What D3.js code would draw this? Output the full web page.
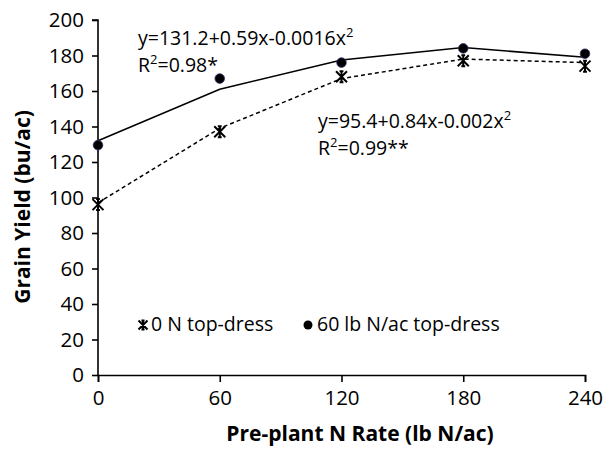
<!DOCTYPE html>
<html>
<head>
<meta charset="utf-8">
<script src="https://cdn.jsdelivr.net/npm/d3@7"></script>
<style>
  body { margin: 0; background: #fff; }
  text { font-family: "Open Sans", sans-serif; fill: #000; }
</style>
</head>
<body>
<script>
// data
var nRate = [0, 60, 120, 180, 240];
var xTicks = [0, 60, 120, 180, 240];
var yTicks = [0, 20, 40, 60, 80, 100, 120, 140, 160, 180, 200];

var yield0N = [96, 137, 168, 177, 174];      // 0 N top-dress (points)
var yield60N = [129.5, 167, 176, 184, 181];  // 60 lb N/ac top-dress (points)
var fit0N = [97, 139, 167, 178, 176];        // dashed fit line
var fit60N = [132, 161, 177.5, 184.5, 179];  // solid fit line

var margin = { top: 20, right: 23, bottom: 76, left: 98 },
  width = 608 - margin.left - margin.right,
  height = 451 - margin.top - margin.bottom;

var svg = d3.select("body").append("svg")
  .attr("width", 608)
  .attr("height", 451)
  .append("g")
  .attr("transform", "translate(" + margin.left + "," + margin.top + ")");

var x = d3.scaleLinear().domain([0, 240]).range([0, width]);
var y = d3.scaleLinear().domain([0, 200]).range([height, 0]);

// axes
var yAxis = svg.append("g")
  .call(d3.axisLeft(y).tickValues(yTicks).tickSize(6).tickPadding(8));
var xAxis = svg.append("g")
  .attr("transform", "translate(0," + height + ")")
  .call(d3.axisBottom(x).tickValues(xTicks).tickSize(7).tickPadding(8));

[xAxis, yAxis].forEach(function (a) {
  a.select(".domain").attr("stroke", "#000").attr("stroke-width", 1.6);
  a.selectAll(".tick line").attr("stroke", "#000").attr("stroke-width", 1.6);
  a.selectAll(".tick text").style("font-size", "20.5px").attr("fill", "#000");
});
yAxis.select(".domain").attr("d", "M0," + height + "V0H-6");

svg.append("text")
  .attr("x", 262).attr("y", 421)
  .attr("text-anchor", "middle")
  .style("font-size", "21px").style("font-weight", "bold")
  .text("Pre-plant N Rate (lb N/ac)");

svg.append("text")
  .attr("transform", "translate(-68,187) rotate(-90)")
  .attr("text-anchor", "middle")
  .style("font-size", "21px").style("font-weight", "bold")
  .text("Grain Yield (bu/ac)");

// fit lines
var line = d3.line()
  .x(function (d, i) { return x(nRate[i]); })
  .y(function (d) { return y(d); });

svg.append("path").datum(fit0N)
  .attr("d", line)
  .attr("fill", "none").attr("stroke", "#000")
  .attr("stroke-width", 1.5).attr("stroke-dasharray", "4,3");

svg.append("path").datum(fit60N)
  .attr("d", line)
  .attr("fill", "none").attr("stroke", "#000")
  .attr("stroke-width", 1.6);

// star markers
function star(g, cx, cy, s) {
  g.append("path")
    .attr("d", "M" + (cx - s) + "," + (cy - s) + "L" + (cx + s) + "," + (cy + s) +
      "M" + (cx + s) + "," + (cy - s) + "L" + (cx - s) + "," + (cy + s) +
      "M" + cx + "," + (cy - s) + "V" + (cy + s) +
      "M" + (cx - s * 0.35) + "," + (cy - s) + "H" + (cx + s * 0.35) +
      "M" + (cx - s * 0.35) + "," + (cy + s) + "H" + (cx + s * 0.35))
    .attr("stroke", "#000").attr("stroke-width", 2).attr("fill", "none");
}

var stars = svg.append("g");
yield0N.forEach(function (d, i) { star(stars, x(nRate[i]), y(d), 5.5); });

svg.append("g").selectAll("circle").data(yield60N).enter()
  .append("circle")
  .attr("cx", function (d, i) { return x(nRate[i]); })
  .attr("cy", function (d) { return y(d); })
  .attr("r", 4.8)
  .attr("fill", "#000")
  .attr("stroke", "#3a2a70").attr("stroke-width", 0.8);

// equations
function eq(tx, ty, coef, r2, fs) {
  var t = svg.append("text").attr("x", tx).attr("y", ty).style("font-size", fs + "px");
  t.append("tspan").text(coef);
  t.append("tspan").attr("dy", -8).style("font-size", "13px").text("2");
  var r = svg.append("text").attr("x", tx).attr("y", ty + 27).style("font-size", fs + "px");
  r.append("tspan").text("R");
  r.append("tspan").attr("dy", -8).style("font-size", "13px").text("2");
  r.append("tspan").attr("dy", 8).text(r2);
}
eq(40, 25, "y=131.2+0.59x-0.0016x", "=0.98*", 19.5);
eq(220, 108, "y=95.4+0.84x-0.002x", "=0.99**", 19.5);

// legend
star(svg, 45, 305, 4.5);
svg.append("text").attr("x", 53).attr("y", 311).style("font-size", "19.5px").text("0 N top-dress");
svg.append("circle").attr("cx", 210).attr("cy", 305).attr("r", 4.5).attr("fill", "#000");
svg.append("text").attr("x", 219).attr("y", 311).style("font-size", "19.5px").text("60 lb N/ac top-dress");
</script>
</body>
</html>
